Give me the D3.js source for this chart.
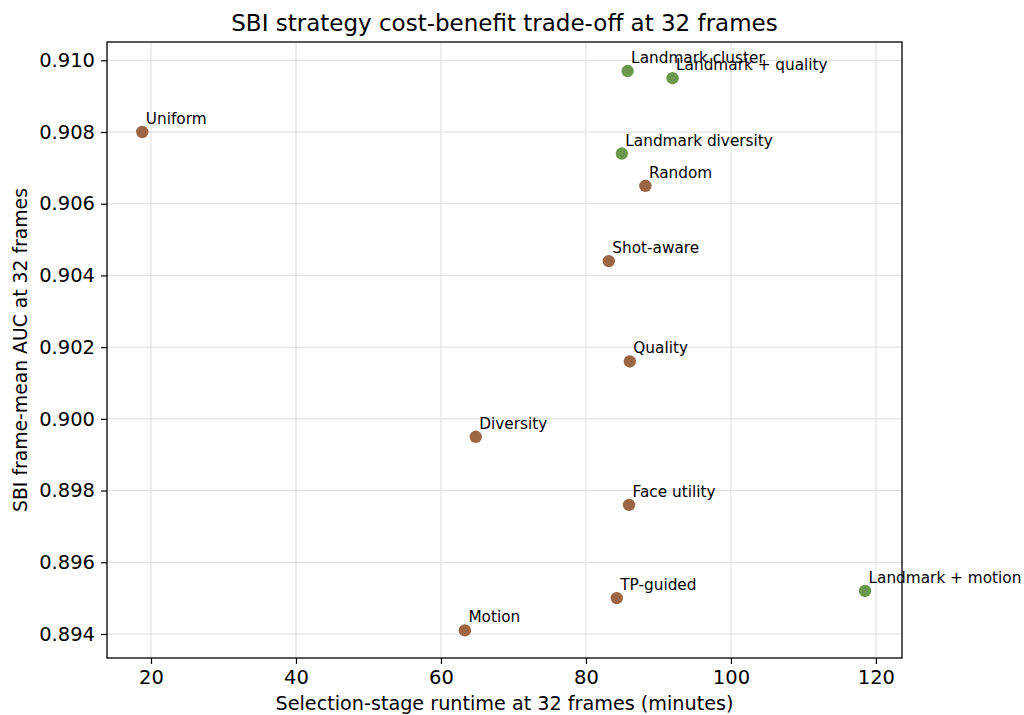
<!DOCTYPE html>
<html>
<head>
<meta charset="utf-8">
<script src="https://cdn.jsdelivr.net/npm/d3@7"></script>
<style>
  html, body { margin: 0; padding: 0; background: #fff; }
  svg { display: block; font-family: "DejaVu Sans", sans-serif; }
</style>
</head>
<body>
<svg id="chart" width="1024" height="715"></svg>
<script>
// Strategy names, runtime (minutes) and frame-mean AUC at 32 frames
const strategies = ["Uniform", "Landmark cluster", "Landmark + quality", "Landmark diversity",
  "Random", "Shot-aware", "Quality", "Diversity", "Face utility", "Landmark + motion",
  "TP-guided", "Motion"];
const runtimes = [18.8, 85.75, 91.95, 84.95, 88.2, 83.15, 86.05, 64.8, 85.95, 118.5, 84.25, 63.3];
const aucs = [0.9080, 0.9097, 0.9095, 0.9074, 0.9065, 0.9044, 0.9016, 0.8995, 0.8976, 0.8952, 0.8950, 0.8941];
// Landmark-based strategies are drawn in green, the rest in brown
const groups = ["base", "landmark", "landmark", "landmark", "base", "base", "base", "base",
  "base", "landmark", "base", "base"];
const xTicks = [20, 40, 60, 80, 100, 120];
const yTicks = [0.894, 0.896, 0.898, 0.900, 0.902, 0.904, 0.906, 0.908, 0.910];

const colors = { base: "#9c6644", landmark: "#6a994e" };

const svg = d3.select("#chart");
const plot = { left: 107, right: 902, top: 42, bottom: 658 };

const x = d3.scaleLinear().domain([13.93, 123.6]).range([plot.left, plot.right]);
const y = d3.scaleLinear().domain([0.89333, 0.91051]).range([plot.bottom, plot.top]);

// grid
const grid = svg.append("g");
grid.selectAll("line.gx").data(xTicks).join("line")
  .attr("x1", d => x(d)).attr("x2", d => x(d))
  .attr("y1", plot.top).attr("y2", plot.bottom)
  .attr("stroke", "#dcdcdc").attr("stroke-width", 1);
grid.selectAll("line.gy").data(yTicks).join("line")
  .attr("x1", plot.left).attr("x2", plot.right)
  .attr("y1", d => y(d)).attr("y2", d => y(d))
  .attr("stroke", "#dcdcdc").attr("stroke-width", 1);

// axes
const xAxis = d3.axisBottom(x).tickValues(xTicks).tickFormat(d3.format("d"))
  .tickSizeInner(6).tickSizeOuter(0).tickPadding(6);
const yAxis = d3.axisLeft(y).tickValues(yTicks).tickFormat(d3.format(".3f"))
  .tickSizeInner(6).tickSizeOuter(0).tickPadding(6);

const gx = svg.append("g").attr("transform", `translate(0,${plot.bottom})`).call(xAxis);
const gy = svg.append("g").attr("transform", `translate(${plot.left},0)`).call(yAxis);
[gx, gy].forEach(g => {
  g.select(".domain").remove();
  g.selectAll(".tick line").attr("stroke", "#000").attr("stroke-width", 1.2);
  g.selectAll(".tick text").attr("fill", "#000").style("font-size", "19.5px")
    .style("font-family", "DejaVu Sans, sans-serif");
});

// frame
svg.append("rect")
  .attr("x", plot.left).attr("y", plot.top)
  .attr("width", plot.right - plot.left).attr("height", plot.bottom - plot.top)
  .attr("fill", "none").attr("stroke", "#000").attr("stroke-width", 1.3);

// points and labels
const pts = strategies.map((name, i) => ({ name, rt: runtimes[i], auc: aucs[i], g: groups[i] }));

svg.append("g").selectAll("circle").data(pts).join("circle")
  .attr("cx", d => x(d.rt)).attr("cy", d => y(d.auc))
  .attr("r", 6.2).attr("fill", d => colors[d.g]);

svg.append("g").selectAll("text").data(pts).join("text")
  .attr("x", d => x(d.rt) + 3.5).attr("y", d => y(d.auc) - 8)
  .style("font-size", "15.3px").attr("fill", "#000")
  .text(d => d.name);

// titles
svg.append("text")
  .attr("x", (plot.left + plot.right) / 2).attr("y", 31)
  .attr("text-anchor", "middle").style("font-size", "23px").attr("fill", "#000")
  .text("SBI strategy cost-benefit trade-off at 32 frames");

svg.append("text")
  .attr("x", (plot.left + plot.right) / 2).attr("y", 710)
  .attr("text-anchor", "middle").style("font-size", "19.2px").attr("fill", "#000")
  .text("Selection-stage runtime at 32 frames (minutes)");

svg.append("text")
  .attr("transform", `translate(27,${(plot.top + plot.bottom) / 2}) rotate(-90)`)
  .attr("text-anchor", "middle").style("font-size", "18.8px").attr("fill", "#000")
  .text("SBI frame-mean AUC at 32 frames");
</script>
</body>
</html>
